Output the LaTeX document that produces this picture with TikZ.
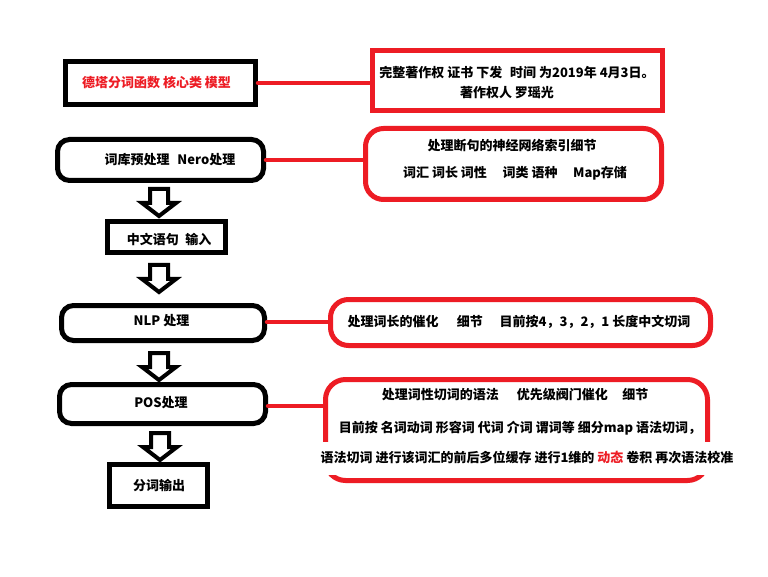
\documentclass[tikz,border=0pt]{standalone}
\usepackage{fontspec}
\setmainfont{Noto Sans CJK SC}
\usetikzlibrary{calc}
\definecolor{pred}{RGB}{237,28,36}
\begin{document}
\begin{tikzpicture}[x=1pt,y=-1pt,
  blk/.style={draw=black,line width=5pt,inner sep=0pt,fill=white},
  blkr/.style={blk,rounded corners=12pt},
  redbox/.style={draw=pred,line width=5pt,inner sep=0pt,fill=white},
  redr/.style={redbox,rounded corners=18pt},
  txt/.style={font=\fontsize{13}{15}\selectfont\bfseries,inner sep=1pt},
  link/.style={draw=pred,line width=4.5pt,line cap=round},
  harrow/.pic={\draw[line width=4pt,fill=white,line join=miter,miter limit=10]
     (-9,0) -- (9,0) -- (9,14) -- (17,14) -- (0,27) -- (-17,14) -- (-9,14) -- cycle;}
]
\useasboundingbox[fill=white] (0,0) rectangle (768,577);

% boxes
\node[blk,minimum width=190pt,minimum height=43pt] (b1) at (160.5,83) {};
\node[redbox,minimum width=290pt,minimum height=60pt] (b2) at (517.5,80.5) {};
\node[blkr,minimum width=206pt,minimum height=41pt] (b3) at (160.5,160) {};
\node[redr,minimum width=296pt,minimum height=71pt] (b4) at (513.5,164) {};
\node[blk,minimum width=118pt,minimum height=31pt] (b5) at (166.5,237) {};
\node[blkr,minimum width=203pt,minimum height=35pt] (b6) at (163,323) {};
\node[redr,minimum width=380pt,minimum height=46pt] (b7) at (520.5,322.5) {};
\node[blkr,minimum width=206pt,minimum height=39pt] (b8) at (162.5,404) {};
\node[blk,minimum width=98pt,minimum height=42pt] (b9) at (158.5,485.5) {};
\node[redr,rounded corners=20pt,minimum width=382pt,minimum height=101pt] (b10) at (516.5,430) {};

% connectors
\draw[link] (b1.east) -- (b1.east -| b2.west);
\draw[link] (b3.east) -- (b3.east -| b4.west);
\draw[link] ($(b6.east)+(0,-1)$) -- ($(b6.east -| b7.west)+(0,-1)$);
\draw[link] ($(b8.east)+(0,2)$) -- ($(b8.east -| b10.west)+(0,2)$);

% hollow arrows
\pic at (159,189) {harrow};
\pic at (159,265) {harrow};
\pic at (159,353) {harrow};
\pic at (160,433) {harrow};

% texts
\node[txt,text=pred] (t1) at (156.5,83) {德塔分词函数 核心类 模型};
\node[txt] (t2a) at (517,73) {完整著作权 证书 下发\hspace{0.6em}时间 为2019年 4月3日。};
\node[txt] (t2b) at (507,93) {著作权人 罗瑶光};
\node[txt] (t3) at (170,160) {词库预处理\hspace{0.6em}Nero处理};
\node[txt] (t4a) at (512,146) {处理断句的神经网络索引细节};
\node[txt] (t4b) at (515,173) {词汇 词长 词性\hspace{1.2em}词类 语种\hspace{1.2em}Map存储};
\node[txt] (t5) at (169,240) {中文语句\hspace{0.5em}输入};
\node[txt] (t6) at (161.5,321) {NLP 处理};
\node[txt] (t7) at (519,322) {处理词长的催化\hspace{1.4em}细节\hspace{1.3em}目前按4，3，2，1 长度中文切词};
\node[txt] (t8) at (161,403) {POS处理};
\node[txt] (t9) at (159,486) {分词输出};
\node[txt] (t10a) at (515,395) {处理词性切词的语法\hspace{1.4em}优先级阀门催化\hspace{1.1em}细节};
\node[txt] (t10b) at (520,428) {目前按 名词动词 形容词 代词 介词 谓词等 细分map 语法切词，};
\node[txt,fill=white,minimum height=33pt] (t10c) at (527,458) {语法切词 进行该词汇的前后多位缓存 进行1维的 {\color{pred}动态} 卷积 再次语法校准};
\end{tikzpicture}
\end{document}
